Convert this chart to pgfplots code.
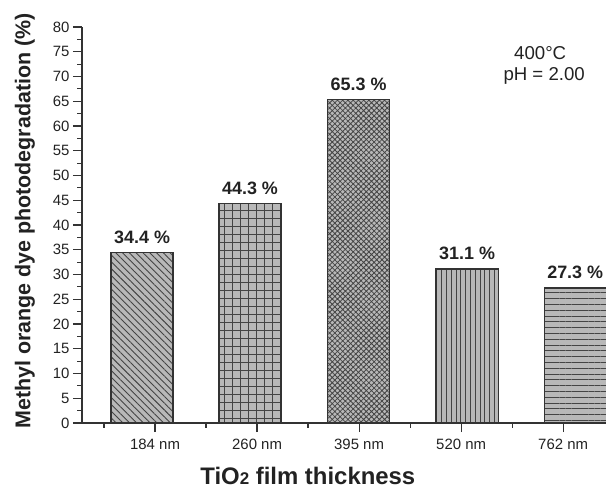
\documentclass[border=0pt]{standalone}
\usepackage{pgfplots}
\pgfplotsset{compat=1.18}
\usepackage{fontspec}
\setmainfont{Liberation Sans}
\usetikzlibrary{patterns.meta}
\definecolor{txt}{HTML}{222222}
\definecolor{axc}{HTML}{333333}
\definecolor{barfill}{HTML}{B8B8B8}
\definecolor{pat}{HTML}{444444}
\definecolor{bardraw}{HTML}{333333}

\begin{document}
\begin{tikzpicture}
\begin{axis}[
  scale only axis, width=524bp, height=396bp,
  xmin=0.284, xmax=5.42, ymin=0, ymax=80,
  clip=false,
  axis lines=left, axis line style={-, axc, line width=1.2bp},
  xtick={1,2,3,4,5}, xticklabels={184 nm,260 nm,395 nm,520 nm,762 nm},
  minor xtick={0.5,1.5,2.5,3.5,4.5},
  ytick={0,5,...,80}, minor ytick={2.5,7.5,...,77.5},
  tick align=outside,
  major tick length=9bp, minor tick length=4.5bp,
  tick style={axc, line width=1.2bp},
  /pgf/number format/assume math mode=true,
  ticklabel style={font=\fontsize{15}{15}\selectfont, text=txt},
  xticklabel style={yshift=-4bp},
  ylabel={Methyl orange dye photodegradation (\%)},
  ylabel style={at={(axis description cs:0,0.51)}, anchor=center, yshift=57bp,
    font=\fontsize{21.5}{22}\selectfont\bfseries, text=txt},
  xlabel={TiO{\fontsize{17}{17}\selectfont 2} film thickness},
  xlabel style={at={(axis description cs:0.431,0)}, anchor=center, yshift=-53bp,
    font=\fontsize{24}{24}\selectfont\bfseries, text=txt},
  ybar, bar width=0.608, bar shift=0pt,
  nodes near coords={\pgfmathprintnumber[fixed,precision=1,fixed zerofill]{\pgfplotspointmeta}~\%},
  every node near coord/.append style={anchor=base, yshift=9.5bp, inner sep=0pt,
    font=\fontsize{18}{18}\selectfont\bfseries, text=txt},
]
\addplot[fill=barfill, draw=bardraw, line width=1.3bp,
  postaction={pattern={Lines[angle=-45,distance=4.8bp,line width=0.9bp]}, pattern color=pat}]
  coordinates {(0.873,34.4)};
\addplot[fill=barfill, draw=bardraw, line width=1.3bp,
  postaction={pattern={Hatch[angle=0,distance=8bp,line width=0.9bp]}, pattern color=pat}]
  coordinates {(1.931,44.3)};
\addplot[fill=barfill, draw=bardraw, line width=1.3bp,
  postaction={pattern={Hatch[angle=45,distance=3.7bp,line width=0.8bp]}, pattern color=pat}]
  coordinates {(2.995,65.3)};
\addplot[fill=barfill, draw=bardraw, line width=1.3bp,
  postaction={pattern={Lines[angle=90,distance=4.8bp,line width=0.9bp]}, pattern color=pat}]
  coordinates {(4.059,31.1)};
\addplot[fill=barfill, draw=bardraw, line width=1.3bp,
  postaction={pattern={Lines[angle=0,distance=5.8bp,line width=0.9bp]}, pattern color=pat}]
  coordinates {(5.118,27.3)};
\node[font=\fontsize{18.7}{19}\selectfont, text=txt, anchor=center] at (axis cs:4.775,74.75) {400°C};
\node[font=\fontsize{18.7}{19}\selectfont, text=txt, anchor=center] at (axis cs:4.814,70.1) {pH = 2.00};
\end{axis}
\pgfresetboundingbox
\path (-82bp,-67bp) rectangle (524bp,423bp);
\end{tikzpicture}
\end{document}
